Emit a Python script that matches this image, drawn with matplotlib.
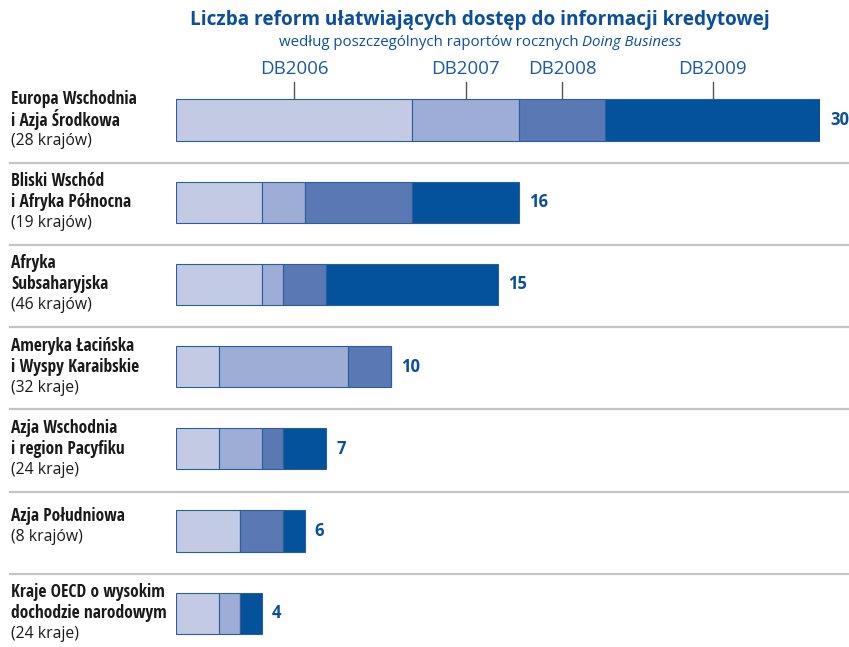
import matplotlib
matplotlib.use("Agg")
import matplotlib.pyplot as plt
from matplotlib import font_manager
from matplotlib.font_manager import FontProperties
from matplotlib.ft2font import FT2Font
from matplotlib.transforms import blended_transform_factory

# --- data -------------------------------------------------------------
regions = [
    "Europa Wschodnia\ni Azja Środkowa",
    "Bliski Wschód\ni Afryka Północna",
    "Afryka\nSubsaharyjska",
    "Ameryka Łacińska\ni Wyspy Karaibskie",
    "Azja Wschodnia\ni region Pacyfiku",
    "Azja Południowa",
    "Kraje OECD o wysokim\ndochodzie narodowym",
]
country_counts = [
    "(28 krajów)", "(19 krajów)", "(46 krajów)", "(32 kraje)",
    "(24 kraje)", "(8 krajów)", "(24 kraje)",
]
years = ["DB2006", "DB2007", "DB2008", "DB2009"]
db2006 = [11, 4, 4, 2, 2, 3, 2]
db2007 = [5, 2, 1, 6, 2, 0, 1]
db2008 = [4, 5, 2, 2, 1, 2, 0]
db2009 = [10, 5, 8, 0, 2, 1, 1]
totals = [30, 16, 15, 10, 7, 6, 4]

title = "Liczba reform ułatwiających dostęp do informacji kredytowej"
subtitle_plain = "według poszczególnych raportów rocznych "
subtitle_italic = "Doing Business"

# --- style ------------------------------------------------------------
colors = ["#C3CAE3", "#9DADD5", "#5A78B3", "#03529B"]
edge = "#2A5E9F"
blue_text = "#0B4F9C"
sep_color = "#C4C4C4"

available = {f.name for f in font_manager.fontManager.ttflist}
regular = "Open Sans" if "Open Sans" in available else "DejaVu Sans"

W, H = 849, 647
fig = plt.figure(figsize=(W / 100, H / 100), dpi=100)
renderer = fig.canvas.get_renderer()

SANS_FAMILIES = ("DejaVu Sans", "Noto Sans", "Roboto", "Open Sans", "Lato",
                 "Inter", "Liberation Sans")
NEEDED = "".join(sorted(set("".join(regions))))


def has_glyphs(path, chars):
    try:
        cmap = FT2Font(path).get_charmap()
    except Exception:
        return False
    return all(ord(c) in cmap for c in chars if not c.isspace())


def pick_label_font(sample="Europa Wschodnia", target_px=130, max_size=12.5):
    """Narrowest bold sans face among the installed families, sized so the
    sample string is about target_px wide."""
    cands = []
    for f in font_manager.fontManager.ttflist:
        if f.style != "normal" or not f.name.startswith(SANS_FAMILIES):
            continue
        if any(k in f.name.lower() for k in ("mono", "cjk", "math", "symbol")):
            continue
        w = f.weight if isinstance(f.weight, int) else (700 if "bold" in str(f.weight) else 400)
        if w < 600 or w > 750:
            continue
        if not has_glyphs(f.fname, NEEDED):
            continue
        fp = FontProperties(fname=f.fname, size=12)
        try:
            wpx, _, _ = renderer.get_text_width_height_descent(sample, fp, ismath=False)
        except Exception:
            continue
        cands.append((wpx, f.fname))
    if not cands:
        return FontProperties(family="DejaVu Sans", weight="bold", size=10.4)
    cands.sort()
    width12, path = cands[0]
    return FontProperties(fname=path, size=min(max_size, 12 * target_px / width12))


label_fp = pick_label_font()

# bars: x=0 at pixel 176, x=30 at pixel 820; row i centred at 120 + 82.2*i px
x0_px, x30_px = 176, 820
row0_px, row_step = 120, 82.2
ax = fig.add_axes([x0_px / W, 0, (x30_px - x0_px) / W, 1])
ax.set_xlim(0, 30)
ax.set_ylim((H - row0_px) / row_step, -row0_px / row_step)
ax.axis("off")

ypos = list(range(len(regions)))
series = [db2006, db2007, db2008, db2009]
left = [0] * len(regions)
for vals, col in zip(series, colors):
    ax.barh(ypos, vals, left=left, height=0.5, color=col,
            edgecolor=edge, linewidth=0.8, zorder=2)
    left = [l + v for l, v in zip(left, vals)]

# value labels
for y, tot in zip(ypos, totals):
    ax.annotate(str(tot), (tot, y), xytext=(10, 0), textcoords="offset pixels",
                va="center", ha="left", fontsize=12, fontweight="bold",
                color=blue_text, family=regular)

# separators between rows
trans_fig_x = blended_transform_factory(fig.transFigure, ax.transData)
for y in ypos[:-1]:
    ax.plot([10 / W, 1], [y + 0.52, y + 0.52], transform=trans_fig_x,
            color=sep_color, lw=1.6, clip_on=False, zorder=1)

# row labels
px = 1 / row_step
for y, name, cnt in zip(ypos, regions, country_counts):
    lines = name.split("\n")
    if len(lines) == 2:
        offs = [-21 * px, 0, 21 * px]
    else:
        offs = [-15 * px, 6 * px]
    for ln, off in zip(lines, offs):
        ax.text(11 / W, y + off, ln, transform=trans_fig_x, ha="left",
                va="center", fontproperties=label_fp, color="#1A1A1A")
    ax.text(11 / W, y + offs[-1], cnt, transform=trans_fig_x, ha="left",
            va="center", fontsize=11.3, family=regular, color="#1A1A1A")

# year markers above the first bar, at the centre of each segment
start = 0
first = [s[0] for s in series]
for yr, v in zip(years, first):
    mid = start + v / 2
    ax.plot([mid, mid], [-0.46, -0.245], color="#555555", lw=1.0,
            clip_on=False, zorder=1)
    ax.text(mid, -0.615, yr, ha="center", va="center", fontsize=13.5,
            family=regular, color="#1A5AA6")
    start += v

# titles
fig.text(480 / W, 1 - 20 / H, title, ha="center", va="center",
         fontsize=13.7, fontweight="bold", family=regular, color=blue_text)
t1 = fig.text(279 / W, 1 - 42 / H, subtitle_plain, ha="left", va="center",
              fontsize=10.8, family=regular, color=blue_text)
fig.canvas.draw()
bb = t1.get_window_extent()
fig.text(bb.x1 / W, 1 - 42 / H, subtitle_italic, ha="left", va="center",
         fontsize=10.8, style="italic", family=regular, color=blue_text)

fig.savefig("out.png", dpi=100)
